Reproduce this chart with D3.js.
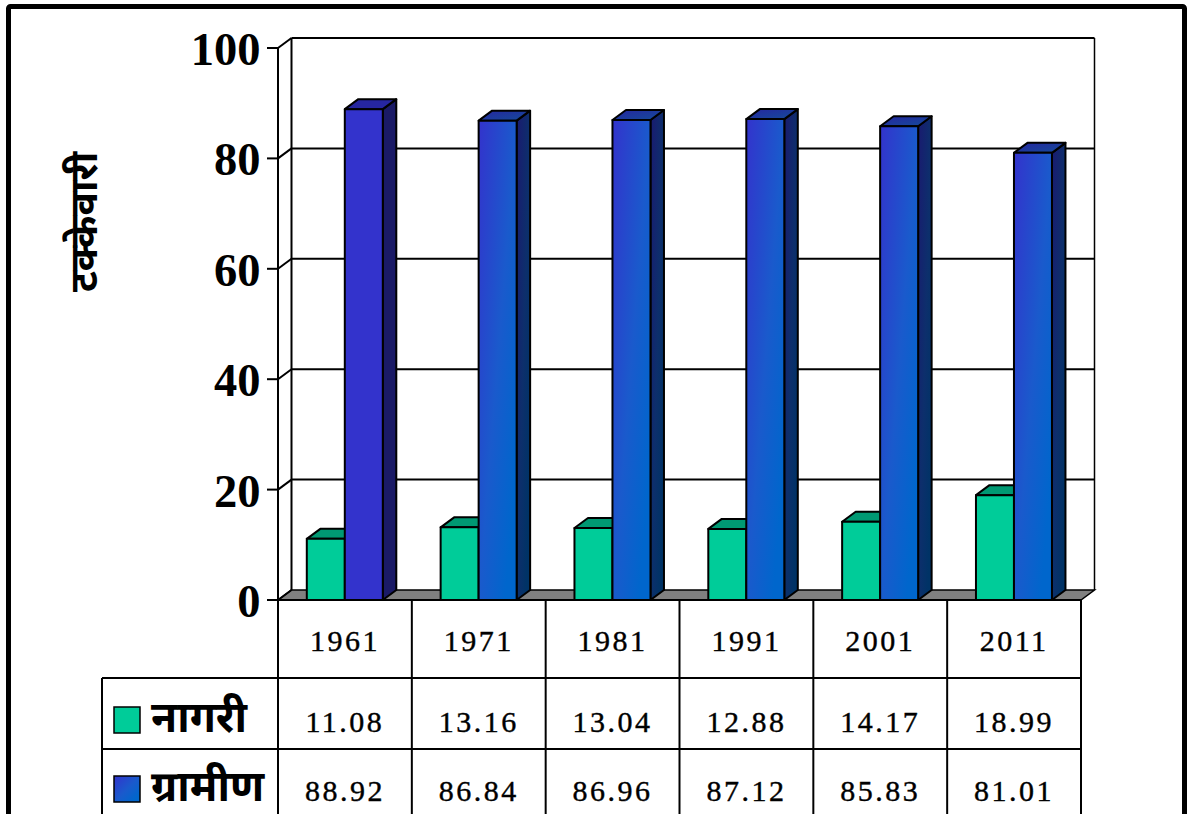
<!DOCTYPE html>
<html><head><meta charset="utf-8">
<script src="https://cdn.jsdelivr.net/npm/d3@7"></script>
<style>html,body{margin:0;padding:0;background:#fff;overflow:hidden}svg{display:block}</style>
</head><body><div id="c"></div>
<script>
const years = ["1961","1971","1981","1991","2001","2011"];
const urban = [11.08,13.16,13.04,12.88,14.17,18.99];
const rural = [88.92,86.84,86.96,87.12,85.83,81.01];
const seriesNames = ["नागरी","ग्रामीण"];
const yTicks = [0,20,40,60,80,100];
const yTitle = "टक्केवारी";

const W=1193,H=814;
const x0=278,x1=1081,yBase=600,yTop=48,depthX=13.5,depthY=10;
const rowLines=[600,678,749], tableLeft=102;
const serif='"Liberation Serif","Times New Roman",serif';
const deva='"Noto Sans Devanagari","Noto Sans","Lohit Devanagari",sans-serif';

const svg=d3.select("#c").append("svg").attr("width",W).attr("height",H);
const defs=svg.append("defs");
function grad(id,stops){
  const g=defs.append("linearGradient").attr("id",id).attr("x1",0).attr("y1",0).attr("x2",1).attr("y2",1);
  stops.forEach(s=>g.append("stop").attr("offset",s[0]).attr("stop-color",s[1]));
}
grad("front",[[0,"#3333cc"],[0.5,"#1a5acc"],[0.85,"#0066cc"],[1,"#0066cc"]]);
grad("side",[[0,"#1a1a70"],[0.5,"#0d2f6c"],[0.85,"#003366"],[1,"#003366"]]);
grad("top",[[0,"#2626a0"],[1,"#144c99"]]);

svg.append("rect").attr("width",W).attr("height",H).attr("fill","#fff");
svg.append("rect").attr("x",8.5).attr("y",6.5).attr("width",1176).attr("height",900)
  .attr("rx",2).attr("fill","#fff").attr("stroke","#000").attr("stroke-width",5);

const y=d3.scaleLinear().domain([0,100]).range([yBase,yTop]);
const x=d3.scaleBand().domain(years).range([x0,x1]);
const inner=d3.scaleBand().domain([0,1]).range([28.8,28.8+76]);

// floor
svg.append("polygon").attr("fill","#808080").attr("stroke","#000").attr("stroke-width",1.5)
  .attr("points",[[x0,yBase],[x0+depthX,yBase-depthY],[x1+depthX,yBase-depthY],[x1,yBase]].join(" "));
// walls
const wall=svg.append("g").attr("fill","none").attr("stroke","#000").attr("stroke-width",2);
wall.append("line").attr("x1",x0).attr("x2",x0).attr("y1",y(0)).attr("y2",y(100));
wall.append("line").attr("x1",x0+depthX).attr("x2",x0+depthX).attr("y1",y(0)-depthY).attr("y2",y(100)-depthY);
wall.append("line").attr("x1",x1+depthX).attr("x2",x1+depthX).attr("y1",y(0)-depthY).attr("y2",y(100)-depthY).attr("stroke-width",1.5);
yTicks.forEach(t=>{
  const yy=y(t);
  wall.append("line").attr("x1",x0-11).attr("x2",x0).attr("y1",yy).attr("y2",yy);
  wall.append("line").attr("x1",x0).attr("x2",x0+depthX).attr("y1",yy).attr("y2",yy-depthY);
  if(t>0) wall.append("line").attr("x1",x0+depthX).attr("x2",x1+depthX).attr("y1",yy-depthY).attr("y2",yy-depthY);
  svg.append("text").attr("x",260.5).attr("y",yy+17).attr("text-anchor","end")
    .attr("font-family",serif).attr("font-weight","bold").attr("font-size",46.5).text(t);
});

// bars
function bar(g,bx,w,v,cols){
  const t=y(v),b=y(0);
  const st={stroke:"#000","stroke-width":2,"stroke-linejoin":"round"};
  const poly=(pts,fill)=>{const p=g.append("polygon").attr("points",pts.join(" ")).attr("fill",fill);Object.entries(st).forEach(([k,val])=>p.attr(k,val));};
  poly([[bx+w,b],[bx+w+depthX,b-depthY],[bx+w+depthX,t-depthY],[bx+w,t]],cols.side);
  poly([[bx,t],[bx+depthX,t-depthY],[bx+w+depthX,t-depthY],[bx+w,t]],cols.top);
  poly([[bx,t],[bx+w,t],[bx+w,b],[bx,b]],cols.front);
}
const bars=svg.append("g");
years.forEach((yr,i)=>{
  bar(bars,x(yr)+inner(0),inner.bandwidth(),urban[i],{front:"#00cc99",side:"#00805f",top:"#009973"});
  const flat=i===0;
  bar(bars,x(yr)+inner(1),inner.bandwidth(),rural[i],
    flat?{front:"#3333cc",side:"#1a1a66",top:"#2626a0"}:{front:"url(#front)",side:"url(#side)",top:"url(#top)"});
});

// data table
const tbl=svg.append("g").attr("stroke","#000").attr("stroke-width",2);
tbl.append("line").attr("x1",x0).attr("x2",x1).attr("y1",rowLines[0]).attr("y2",rowLines[0]);
tbl.append("line").attr("x1",tableLeft).attr("x2",x1).attr("y1",rowLines[1]).attr("y2",rowLines[1]);
tbl.append("line").attr("x1",tableLeft).attr("x2",x1).attr("y1",rowLines[2]).attr("y2",rowLines[2]);
tbl.append("line").attr("x1",tableLeft).attr("x2",tableLeft).attr("y1",rowLines[1]).attr("y2",H);
years.forEach(yr=>tbl.append("line").attr("x1",x(yr)).attr("x2",x(yr)).attr("y1",yBase).attr("y2",H));
tbl.append("line").attr("x1",x1).attr("x2",x1).attr("y1",yBase).attr("y2",H);

function cell(txt,yr,base){
  svg.append("text").attr("x",x(yr)+x.bandwidth()/2).attr("y",base).attr("text-anchor","middle")
    .attr("font-family",serif).attr("font-size",30).attr("letter-spacing",2.5).attr("fill","#000")
    .attr("stroke","#000").attr("stroke-width",0.4).text(txt);
}
years.forEach((yr,i)=>{
  cell(yr,yr,651);
  cell(urban[i].toFixed(2),yr,732);
  cell(rural[i].toFixed(2),yr,801);
});

// legend keys
const keys=[{y:707,fill:"#00cc99"},{y:776,fill:"url(#front)"}];
keys.forEach((k,i)=>{
  svg.append("rect").attr("x",114).attr("y",k.y).attr("width",26).attr("height",26).attr("fill",k.fill).attr("stroke","#000").attr("stroke-width",1.5);
  svg.append("text").attr("x",151).attr("y",k.y+25).attr("font-family",deva).attr("font-weight","bold").attr("font-size",42.5).attr("fill","#000").text(seriesNames[i]);
});
// y title
svg.append("text").attr("transform","translate(97,222) rotate(-90)").attr("text-anchor","middle")
  .attr("font-family",deva).attr("font-weight","bold").attr("font-size",39).attr("fill","#000").text(yTitle);
</script></body></html>
